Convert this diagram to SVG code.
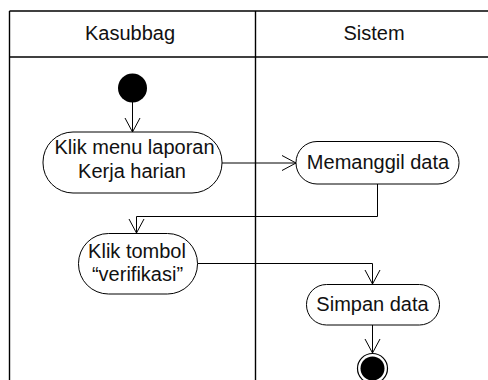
<svg xmlns="http://www.w3.org/2000/svg" width="488" height="380" viewBox="0 0 488 380">
<style>
text{font-family:"Liberation Sans",Arial,sans-serif;font-size:20px;fill:#111;text-anchor:middle}
.node{fill:#fff;stroke:#000;stroke-width:1}
.lane{fill:none;stroke:#000;stroke-width:1.4}
.conn{fill:none;stroke:#000;stroke-width:1}
</style>
<defs>
<marker id="arr" markerUnits="userSpaceOnUse" markerWidth="20" markerHeight="20" viewBox="-16 -10 18 20" refX="0" refY="0" orient="auto">
<path d="M-14,-7.5 L0,0 L-14,7.5" fill="none" stroke="#000" stroke-width="1"/>
</marker>
</defs>
<rect width="488" height="380" fill="#fff"/>
<g id="lanes">
<line class="lane" x1="9.5" y1="11" x2="488" y2="11" stroke-width="1"/>
<line class="lane" x1="9.5" y1="57" x2="488" y2="57" stroke-width="2"/>
<line class="lane" x1="9.5" y1="11" x2="9.5" y2="380"/>
<line class="lane" x1="255.5" y1="11" x2="255.5" y2="380"/>
<text x="130" y="40">Kasubbag</text>
<text x="374" y="40">Sistem</text>
</g>
<g id="connectors">
<path class="conn" d="M132.5,102 V132" marker-end="url(#arr)"/>
<path class="conn" d="M222,163 H296" marker-end="url(#arr)"/>
<path class="conn" d="M377.5,184 V216.5 H136.5 V233" marker-end="url(#arr)"/>
<path class="conn" d="M197.5,263.5 H372.5 V284" marker-end="url(#arr)"/>
<path class="conn" d="M372.5,325 V353" marker-end="url(#arr)"/>
</g>
<g id="start">
<circle cx="132.5" cy="88" r="14.5" fill="#000"/>
</g>
<g id="n1">
<rect class="node" x="43" y="132" width="179" height="61" rx="30" ry="30"/>
<text x="134.5" y="154">Klik menu laporan</text>
<text x="132" y="178">Kerja harian</text>
</g>
<g id="n2">
<rect class="node" x="296" y="141.5" width="163" height="42.5" rx="21" ry="21"/>
<text x="378" y="169">Memanggil data</text>
</g>
<g id="n3">
<rect class="node" x="78.5" y="233.5" width="119" height="60.5" rx="30" ry="30"/>
<text x="137" y="258">Klik tombol</text>
<text x="137.5" y="281">“verifikasi”</text>
</g>
<g id="n4">
<rect class="node" x="306.5" y="284.5" width="133" height="40.5" rx="20" ry="20"/>
<text x="372.5" y="311">Simpan data</text>
</g>
<g id="end">
<circle cx="372.5" cy="368.5" r="15" fill="#fff" stroke="#000" stroke-width="1.2"/>
<circle cx="372.5" cy="368.5" r="12" fill="#000"/>
</g>
</svg>
